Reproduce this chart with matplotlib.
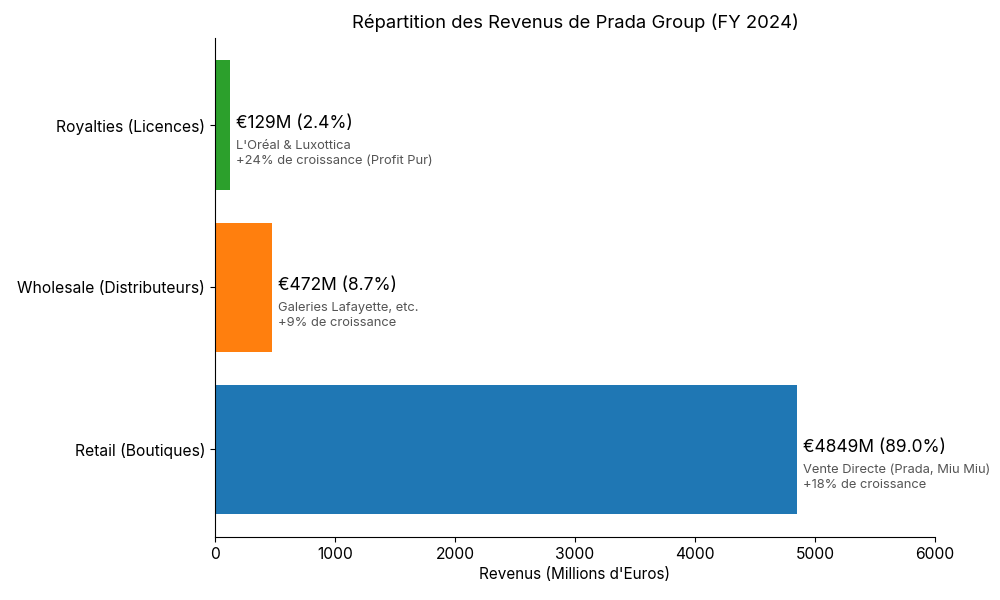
import matplotlib
matplotlib.use("Agg")
import matplotlib.pyplot as plt

# ── data ───────────────────────────────────────────────────────────────────────
categories = ["Retail (Boutiques)", "Wholesale (Distributeurs)", "Royalties (Licences)"]
values = [4849, 472, 129]
shares = [89.0, 8.7, 2.4]
details = [
    "Vente Directe (Prada, Miu Miu)\n+18% de croissance",
    "Galeries Lafayette, etc.\n+9% de croissance",
    "L'Oréal & Luxottica\n+24% de croissance (Profit Pur)",
]
colors = ["#1f77b4", "#ff7f0e", "#2ca02c"]

plt.rcParams['font.family'] = ['Inter', 'DejaVu Sans']

fig, ax = plt.subplots(figsize=(10, 6), dpi=100)
bars = ax.barh(categories, values, color=colors, height=0.8)

for i, (v, s, d) in enumerate(zip(values, shares, details)):
    ax.text(v + 50, i + 0.01, f"€{v}M ({s}%)", va="center", ha="left",
            fontsize=12.5, color="black")
    ax.text(v + 50, i - 0.09, d, va="top", ha="left", fontsize=9.3,
            color="#555555", linespacing=1.3)

ax.set_xlim(0, 6000)
ax.set_xlabel("Revenus (Millions d'Euros)", fontsize=11)
ax.set_title("Répartition des Revenus de Prada Group (FY 2024)", fontsize=13.3, pad=7)
ax.tick_params(axis="both", labelsize=11.3)
ax.spines["top"].set_visible(False)
ax.spines["right"].set_visible(False)

fig.subplots_adjust(left=0.215, right=0.935, bottom=0.105, top=0.937)
fig.savefig("out.png", dpi=100)
